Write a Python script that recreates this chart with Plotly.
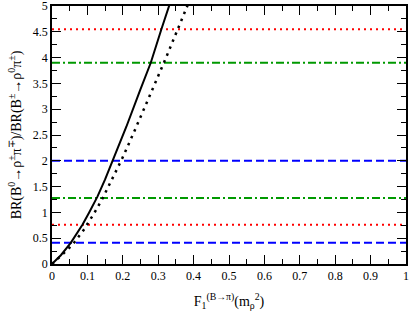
import plotly.graph_objects as go

# solid curve
solid_x = [0, 0.025, 0.053, 0.086, 0.105, 0.128, 0.15, 0.171, 0.21, 0.249, 0.279, 0.309, 0.331, 0.35]
solid_y = [0, 0.17, 0.41, 0.76, 1.0, 1.3, 1.64, 2.0, 2.66, 3.37, 3.9, 4.55, 5.0, 5.4]

# dotted curve
dot_x = [0, 0.0235, 0.0414, 0.059, 0.0895, 0.117, 0.142, 0.165, 0.198, 0.230, 0.261,
         0.291, 0.321, 0.350, 0.380, 0.39]
dot_y = [0, 0.14, 0.26, 0.38, 0.66, 0.96, 1.26, 1.58, 2.04, 2.53, 3.01,
         3.50, 3.98, 4.47, 4.97, 5.13]

# horizontal bounds
red_levels = [4.55, 0.76]
green_levels = [3.9, 1.28]
blue_levels = [2.0, 0.41]

x_ticks = [0, 0.1, 0.2, 0.3, 0.4, 0.5, 0.6, 0.7, 0.8, 0.9, 1]
x_ticklabels = ["0", "0.1", "0.2", "0.3", "0.4", "0.5", "0.6", "0.7", "0.8", "0.9", "1"]
y_ticks = [0, 0.5, 1, 1.5, 2, 2.5, 3, 3.5, 4, 4.5, 5]
y_ticklabels = ["0", "0.5", "1", "1.5", "2", "2.5", "3", "3.5", "4", "4.5", "5"]

fig = go.Figure()

for lv in red_levels:
    fig.add_trace(go.Scatter(x=[0, 1], y=[lv, lv], mode="lines",
                             line=dict(color="#ff0000", width=2, dash="2px,4px"),
                             showlegend=False, hoverinfo="skip"))
for lv in green_levels:
    fig.add_trace(go.Scatter(x=[0, 1], y=[lv, lv], mode="lines",
                             line=dict(color="#009900", width=2, dash="8px,3px,2px,3px"),
                             showlegend=False, hoverinfo="skip"))
for lv in blue_levels:
    fig.add_trace(go.Scatter(x=[0, 1], y=[lv, lv], mode="lines",
                             line=dict(color="#0000ff", width=2, dash="8px,4px"),
                             showlegend=False, hoverinfo="skip"))

fig.add_trace(go.Scatter(x=solid_x, y=solid_y, mode="lines",
                         line=dict(color="black", width=2),
                         showlegend=False))
fig.add_trace(go.Scatter(x=dot_x, y=dot_y, mode="lines",
                         line=dict(color="black", width=2.5, dash="2.5px,5px"),
                         showlegend=False))

font_family = "Liberation Serif"
fig.update_layout(
    width=411, height=318,
    margin=dict(l=52, r=5, t=6, b=54, autoexpand=False),
    paper_bgcolor="white", plot_bgcolor="white",
    font=dict(family=font_family, size=12, color="black"),
    xaxis=dict(range=[0, 1], tickvals=x_ticks, ticktext=x_ticklabels,
               ticks="inside", ticklen=9, tickwidth=1, tickcolor="black",
               minor=dict(ticks="inside", ticklen=5, dtick=0.05, tickcolor="black", tickwidth=1),
               showline=True, linecolor="black", linewidth=1.5, mirror="ticks",
               showgrid=False, zeroline=False, automargin=False,
               ticklabeloverflow="allow",
               tickfont=dict(family=font_family, size=12),
               title=dict(text="F<sub>1</sub><sup>(B→π)</sup>(m<sub>ρ</sub><sup>2</sup>)",
                          font=dict(family=font_family, size=14), standoff=14)),
    yaxis=dict(range=[0, 5], tickvals=y_ticks, ticktext=y_ticklabels,
               ticks="inside", ticklen=9, tickwidth=1, tickcolor="black",
               minor=dict(ticks="inside", ticklen=5, dtick=0.25, tickcolor="black", tickwidth=1),
               showline=True, linecolor="black", linewidth=1.5, mirror="ticks",
               showgrid=False, zeroline=False, automargin=False,
               ticklabeloverflow="allow",
               tickfont=dict(family=font_family, size=12),
               title=dict(text="BR(B<sup>0</sup>→ρ<sup>±</sup>π<sup>∓</sup>)/BR(B<sup>±</sup>→ρ<sup>0</sup>π<sup>±</sup>)",
                          font=dict(family=font_family, size=14), standoff=8)),
)

fig.write_html("out.html", config={"displayModeBar": False},
               post_script="document.body.style.margin='0';document.body.style.overflow='hidden';")
